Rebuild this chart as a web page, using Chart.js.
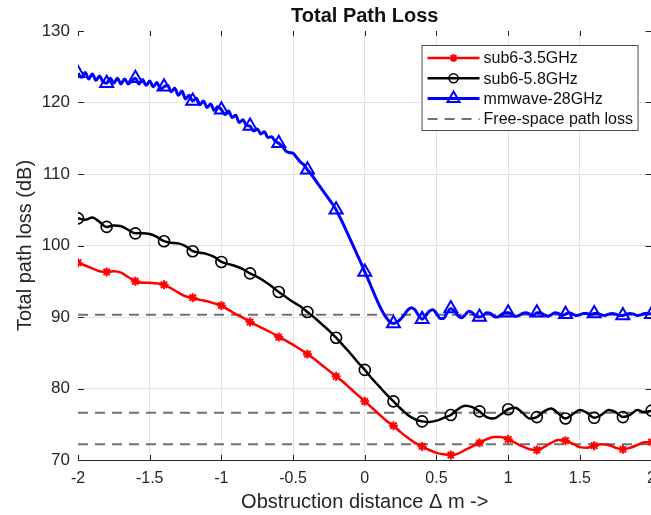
<!DOCTYPE html>
<html lang="en">
<head>
<meta charset="UTF-8">
<title>Total Path Loss</title>
<script src="https://cdn.jsdelivr.net/npm/chart.js"></script>
<style>
    body {
        margin: 0;
        background: #fff;
        overflow: hidden;
    }
    /* a little wider than the window so the plot runs right up to the edge */
    .chart-container {
        width: 665px;
        height: 515px;
    }
</style>
</head>
<body>
<div class="chart-container"><canvas id="lossChart"></canvas></div>
<script>
// axis ticks
const xTicks = [-2, -1.5, -1, -0.5, 0, 0.5, 1, 1.5, 2];
const yTicks = [70, 80, 90, 100, 110, 120, 130];

// sample spacing along the obstruction distance (m), starting at -2
const xStart = -2;
const stepSub6 = 0.05;
const stepMm = 0.025;

const seriesNames = ["sub6-3.5GHz", "sub6-5.8GHz", "mmwave-28GHz"];
const fsplName = "Free-space path loss";

// total path loss (dB), sub6 3.5 GHz, every 0.05 m
const loss35 = [
    97.6, 97.2, 96.8, 96.4,
    96.3, 96.4, 96.2, 95.6,
    95.0, 94.8, 94.8, 94.7,
    94.5, 94.0, 93.4, 92.9,
    92.7, 92.4, 92.2, 91.9,
    91.6, 91.0, 90.4, 89.9,
    89.3, 88.8, 88.3, 87.8,
    87.2, 86.7, 86.1, 85.5,
    84.8, 84.1, 83.3, 82.5,
    81.7, 80.9, 80.0, 79.1,
    78.2, 77.3, 76.4, 75.5,
    74.8, 73.9, 73.1, 72.4,
    71.9, 71.4, 71.0, 70.8,
    70.7, 70.9, 71.4, 71.9,
    72.4, 72.9, 73.2, 73.2,
    72.9, 72.4, 71.9, 71.5,
    71.4, 71.8, 72.4, 72.8,
    72.7, 72.3, 71.8, 71.7,
    72.0, 72.2, 72.1, 71.7,
    71.5, 71.7, 72.1, 72.5,
    72.5
];

// sub6 5.8 GHz, every 0.05 m
const loss58 = [
    103.8, 103.6, 103.9, 103.3,
    102.6, 102.8, 102.7, 102.2,
    101.7, 101.7, 101.6, 101.2,
    100.6, 100.4, 100.3, 99.9,
    99.2, 99.0, 98.8, 98.4,
    97.7, 97.4, 97.1, 96.7,
    96.1, 95.6, 95.0, 94.3,
    93.5, 92.8, 92.1, 91.5,
    90.7, 89.9, 89.0, 88.1,
    87.1, 86.0, 84.9, 83.7,
    82.6, 81.4, 80.3, 79.2,
    78.2, 77.2, 76.3, 75.7,
    75.4, 75.3, 75.5, 75.9,
    76.3, 77.1, 77.6, 77.4,
    76.8, 76.0, 75.8, 76.4,
    77.1, 77.3, 76.6, 75.8,
    76.0, 76.8, 77.2, 76.5,
    75.8, 76.4, 77.0, 76.6,
    75.9, 76.3, 77.0, 76.7,
    76.0, 76.3, 77.0, 76.7,
    76.9
];

// mmwave 28 GHz, every 0.025 m (fast ripple on the shadowed side)
const loss28 = [
    124.1, 123.5, 124.2, 123.3, 124.0, 123.1, 123.7, 122.9,
    122.7, 123.4, 122.7, 123.4, 122.6, 123.3, 122.6, 123.0,
    123.4, 122.6, 123.2, 122.4, 123.0, 122.2, 122.8, 121.9,
    122.2, 122.4, 121.5, 122.0, 121.0, 121.6, 120.5, 121.0,
    120.2, 120.6, 119.7, 120.2, 119.3, 119.8, 118.9, 119.4,
    119.0, 118.3, 118.8, 117.9, 118.2, 117.2, 117.6, 116.8,
    116.7, 116.0, 116.3, 115.6, 115.9, 115.1, 115.2, 114.6,
    114.3, 113.9, 113.2, 113.0, 112.9, 112.3, 111.7, 111.3,
    110.6, 110.0, 109.3, 108.6, 107.9, 107.2, 106.5, 105.8,
    105.0, 104.0, 103.0, 101.9, 100.8, 99.7, 98.6, 97.5,
    96.3, 95.2, 94.0, 92.8, 91.7, 90.7, 89.9, 89.3,
    89.1, 89.3, 89.7, 90.3, 91.0, 91.3, 91.0, 90.2,
    89.7, 90.2, 90.8, 91.0, 90.5, 89.8, 89.8, 90.6,
    91.2, 90.8, 90.2, 89.9, 90.3, 90.8, 90.6, 90.1,
    90.0, 90.2, 90.6, 90.5, 90.1, 90.0, 90.3, 90.6,
    90.6, 90.4, 90.1, 90.2, 90.5, 90.6, 90.4, 90.2,
    90.6, 90.6, 90.3, 90.1, 90.3, 90.6, 90.5, 90.2,
    90.4, 90.6, 90.4, 90.2, 90.3, 90.5, 90.5, 90.3,
    90.5, 90.5, 90.3, 90.2, 90.4, 90.5, 90.4, 90.2,
    90.2, 90.4, 90.5, 90.4, 90.2, 90.3, 90.5, 90.5,
    90.4
];

// free-space path loss per band (dB): 3.5, 5.8, 28 GHz
const fsplLevels = [72.2, 76.6, 90.3];

const FONT = "'Liberation Sans', Arial, Helvetica, sans-serif";
const TEXT = "#262626";

function toPoints(values, step) {
    return values.map((v, i) => ({ x: Math.round((xStart + i * step) * 1000) / 1000, y: v }));
}

// markers only every 0.2 m
function markerEvery(n, r) {
    return (ctx) => (ctx.dataIndex % n === 0 ? r : 0);
}

const curves = [
    {
        label: seriesNames[0],
        data: toPoints(loss35, stepSub6),
        borderColor: "#ff0000",
        borderWidth: 2.5,
        pointStyle: "star",
        pointRadius: markerEvery(4, 4.5),
        pointBorderWidth: 2,
        pointBorderColor: "#ff0000",
    },
    {
        label: seriesNames[1],
        data: toPoints(loss58, stepSub6),
        borderColor: "#000000",
        borderWidth: 2.5,
        pointStyle: "circle",
        pointRadius: markerEvery(4, 5.5),
        pointBorderWidth: 1.6,
        pointBorderColor: "#000000",
    },
    {
        label: seriesNames[2],
        data: toPoints(loss28, stepMm),
        borderColor: "#0000ff",
        borderWidth: 3,
        pointStyle: "triangle",
        pointRadius: markerEvery(8, 7.5),
        pointBorderWidth: 2,
        pointBorderColor: "#0000ff",
    },
];
curves.forEach((c) => {
    c.pointBackgroundColor = "rgba(0,0,0,0)";
    c.pointHoverRadius = 0;
    c.cubicInterpolationMode = "monotone";
    c.fill = false;
});

const fsplLines = fsplLevels.map((level, i) => ({
    label: i === 0 ? fsplName : "",
    data: [{ x: xTicks[0], y: level }, { x: xTicks[xTicks.length - 1], y: level }],
    borderColor: "#727272",
    borderWidth: 2,
    borderDash: [10, 7],
    pointRadius: 0,
    pointHoverRadius: 0,
    fill: false,
}));

// short inward tick marks on all four edges, like a boxed plot
const innerTicks = {
    id: "innerTicks",
    afterDatasetsDraw(chart) {
        const { ctx, chartArea: a, scales } = chart;
        ctx.save();
        ctx.strokeStyle = TEXT;
        ctx.lineWidth = 1;
        ctx.beginPath();
        xTicks.forEach((v) => {
            const px = Math.round(scales.x.getPixelForValue(v)) + 0.5;
            ctx.moveTo(px, a.bottom); ctx.lineTo(px, a.bottom - 5);
            ctx.moveTo(px, a.top); ctx.lineTo(px, a.top + 5);
        });
        yTicks.forEach((v) => {
            const py = Math.round(scales.y.getPixelForValue(v)) + 0.5;
            ctx.moveTo(a.left, py); ctx.lineTo(a.left + 6, py);
            ctx.moveTo(a.right, py); ctx.lineTo(a.right - 6, py);
        });
        ctx.stroke();
        ctx.restore();
    },
};

// boxed legend inside the top-right corner, line sample with marker
const boxLegend = {
    id: "boxLegend",
    afterDraw(chart) {
        const { ctx, chartArea } = chart;
        const w = 216, h = 85;
        const x0 = chartArea.right - 14 - w;
        const y0 = chartArea.top + 14;
        ctx.save();
        ctx.fillStyle = "#ffffff";
        ctx.fillRect(x0, y0, w, h);
        ctx.strokeStyle = "#4d4d4d";
        ctx.lineWidth = 1;
        ctx.strokeRect(x0 + 0.5, y0 + 0.5, w, h);

        const items = [0, 1, 2, 3];
        items.forEach((dsIndex, i) => {
            const ds = chart.data.datasets[dsIndex];
            const y = y0 + 13 + i * 20.3;
            ctx.setLineDash(ds.borderDash || []);
            ctx.strokeStyle = ds.borderColor;
            ctx.lineWidth = ds.borderWidth;
            ctx.beginPath();
            ctx.moveTo(x0 + 6, y);
            ctx.lineTo(x0 + 58, y);
            ctx.stroke();
            ctx.setLineDash([]);
            if (ds.pointStyle) {
                ctx.fillStyle = "rgba(0,0,0,0)";
                ctx.lineWidth = ds.pointBorderWidth;
                const r = ds.pointStyle === "triangle" ? 7 : ds.pointStyle === "circle" ? 4.5 : 4;
                Chart.helpers.drawPoint(ctx, { pointStyle: ds.pointStyle, radius: r, borderWidth: ds.pointBorderWidth }, x0 + 32, y);
            }
            ctx.fillStyle = "#111";
            ctx.font = "16px " + FONT;
            ctx.textBaseline = "middle";
            ctx.textAlign = "left";
            ctx.fillText(ds.label, x0 + 62, y + 1);
        });
        ctx.restore();
    },
};

const gridColor = (edges) => (ctx) =>
    ctx.tick && edges.includes(ctx.tick.value) ? "rgba(0,0,0,0)" : "#e3e3e3";

new Chart(document.getElementById("lossChart"), {
    type: "line",
    data: { datasets: [...curves, ...fsplLines] },
    options: {
        responsive: true,
        maintainAspectRatio: false,
        animation: false,
        layout: { padding: 0 },
        plugins: {
            legend: { display: false },
            tooltip: { enabled: false },
            title: {
                display: true,
                fullSize: false,
                text: "Total Path Loss",
                color: "#111",
                font: { family: FONT, size: 20, weight: "bold", lineHeight: 1.2 },
                padding: { top: 4, bottom: 3 },
            },
        },
        scales: {
            x: {
                type: "linear",
                min: -2,
                max: 2,
                afterBuildTicks: (s) => { s.ticks = xTicks.map((v) => ({ value: v })); },
                afterFit: (s) => { s.height = 55; },
                grid: { color: gridColor([-2, 2]), drawTicks: false },
                border: { color: TEXT, width: 1 },
                ticks: {
                    padding: 9,
                    color: TEXT,
                    font: { family: FONT, size: 16 },
                    maxRotation: 0,
                    autoSkip: false,
                    callback: (v) => String(v),
                },
                title: {
                    display: true,
                    text: "Obstruction distance \u0394 m ->",
                    color: TEXT,
                    font: { family: FONT, size: 20, lineHeight: 1.2 },
                    padding: { top: 0, bottom: 1 },
                },
            },
            y: {
                min: 70,
                max: 130,
                afterBuildTicks: (s) => { s.ticks = yTicks.map((v) => ({ value: v })); },
                afterFit: (s) => { s.width = 78; },
                grid: { color: gridColor([130]), drawTicks: false },
                border: { display: false },
                ticks: {
                    padding: 8,
                    color: TEXT,
                    font: { family: FONT, size: 17 },
                    callback: (v) => String(v),
                },
                title: {
                    display: true,
                    text: "Total path loss (dB)",
                    color: TEXT,
                    font: { family: FONT, size: 20, lineHeight: 1.2 },
                    padding: { top: 13, bottom: 0 },
                },
            },
        },
    },
    plugins: [innerTicks, boxLegend],
});
</script>
</body>
</html>
